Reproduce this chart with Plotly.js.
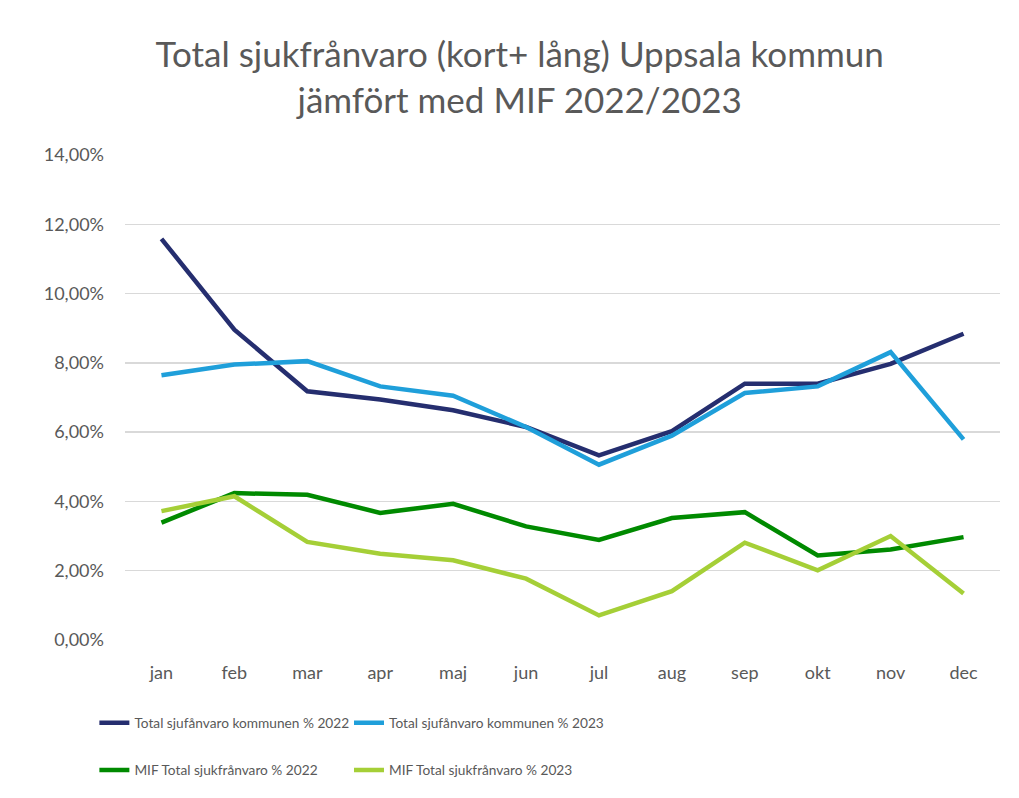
<!DOCTYPE html>
<html><head><meta charset="utf-8">
<script src="https://cdn.plot.ly/plotly-3.0.1.min.js"></script>
<style>html,body{margin:0;padding:0;background:#fff}#c{width:1019px;height:798px}</style>
</head><body><div id="c"></div>
<script>
const months = ['jan','feb','mar','apr','maj','jun','jul','aug','sep','okt','nov','dec'];
const kommun2022 = [11.58, 8.96, 7.18, 6.94, 6.63, 6.15, 5.33, 6.03, 7.40, 7.40, 7.97, 8.84];
const kommun2023 = [7.64, 7.95, 8.05, 7.32, 7.05, 6.15, 5.06, 5.90, 7.13, 7.32, 8.31, 5.79];
const mif2022 = [3.39, 4.24, 4.19, 3.67, 3.93, 3.28, 2.89, 3.52, 3.69, 2.44, 2.61, 2.97];
const mif2023 = [3.72, 4.15, 2.83, 2.49, 2.30, 1.77, 0.71, 1.41, 2.81, 2.01, 3.00, 1.34];
const names = ['Total sjufånvaro kommunen % 2022','Total sjufånvaro kommunen % 2023','MIF Total sjukfrånvaro % 2022','MIF Total sjukfrånvaro % 2023'];
const colors = ['#252e6f','#1f9fda','#008a00','#a5cf37'];
const series = [kommun2022, kommun2023, mif2022, mif2023];
const FONT = 'Lato, "Open Sans", sans-serif';
const legendIds = ['legend','legend2','legend3','legend4'];
const traces = series.map((s,i)=>({
  x: months, y: s, name: names[i], type:'scatter', mode:'lines',
  line:{color:colors[i], width:4.5},
  legend: legendIds[i]
}));
const legendCommon = {orientation:'h', font:{family:FONT,size:13.7,color:'#595959'}, itemwidth:30, bgcolor:'rgba(0,0,0,0)', xanchor:'left', yanchor:'middle'};
const layout = {
  width:1019, height:798,
  margin:{l:125, r:19, t:155, b:158, autoexpand:false},
  paper_bgcolor:'#fff', plot_bgcolor:'#fff',
  separators:',.',
  title:{text:'Total sjukfrånvaro (kort+ lång) Uppsala kommun<br>jämfört med MIF 2022/2023', font:{family:FONT,size:35,color:'#595959'}, x:0.51, xanchor:'center', y:0.916, yanchor:'top'},
  xaxis:{type:'category', range:[-0.5,11.5], tickfont:{family:FONT,size:18,color:'#595959'}, ticklabelstandoff:20, showgrid:false, zeroline:false, showline:false, ticks:'', ticklen:0},
  yaxis:{range:[0,14], dtick:2, tick0:0, tickformat:'.2f', ticksuffix:'%', tickfont:{family:FONT,size:18,color:'#595959'}, ticklabelstandoff:20, gridcolor:'#d9d9d9', gridwidth:1.5, zeroline:false, showline:false, ticks:'', automargin:false, fixedrange:true},
  legend: Object.assign({}, legendCommon, {x:-0.035, y:-0.171}),
  legend2: Object.assign({}, legendCommon, {x:0.256, y:-0.171}),
  legend3: Object.assign({}, legendCommon, {x:-0.035, y:-0.268}),
  legend4: Object.assign({}, legendCommon, {x:0.256, y:-0.268}),
  showlegend:true
};
Plotly.newPlot('c', traces, layout, {displayModeBar:false, staticPlot:true});
</script>
</body></html>
